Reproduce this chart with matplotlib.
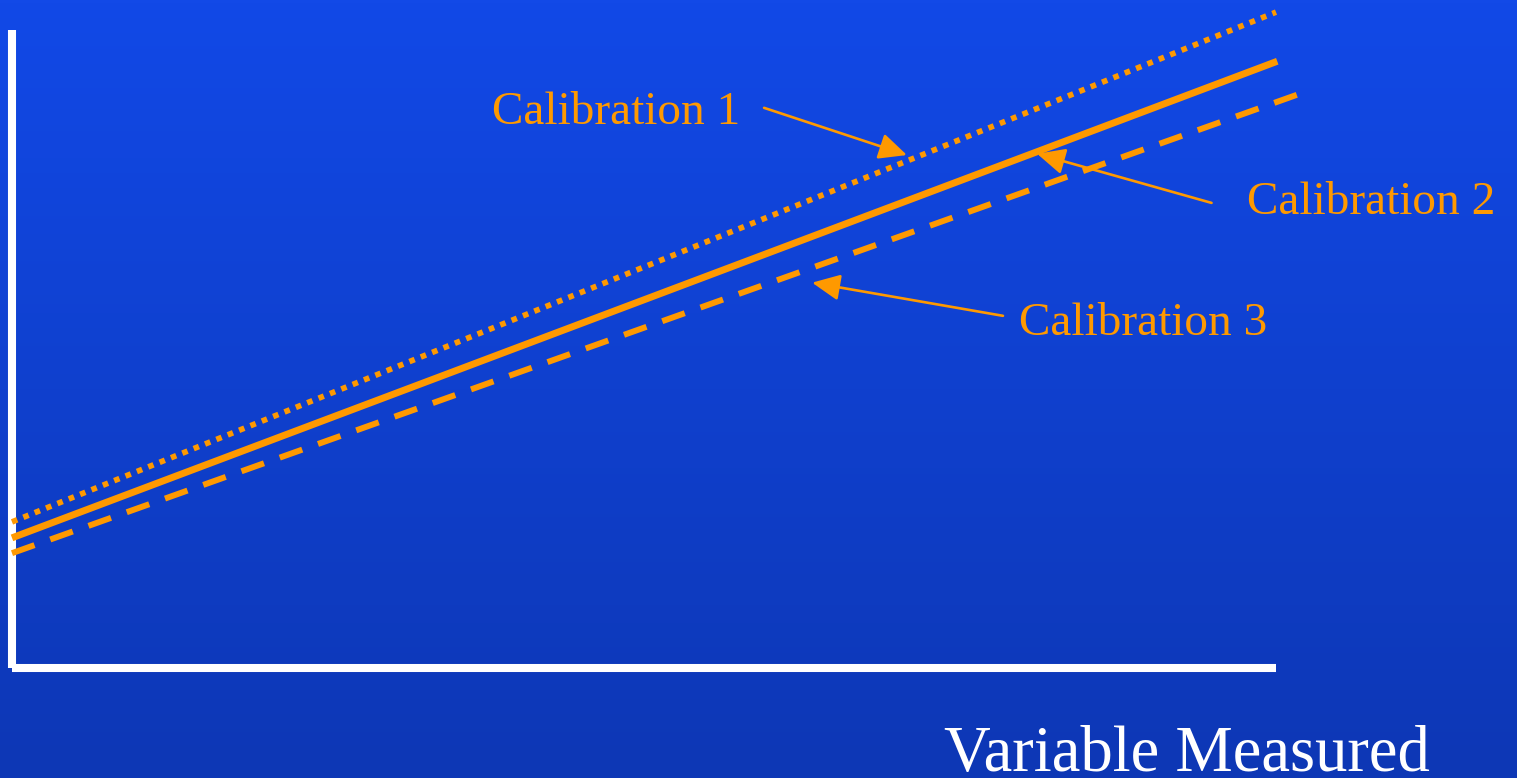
import numpy as np
import matplotlib
matplotlib.use("Agg")
import matplotlib.pyplot as plt

# three calibration lines: end points in axis units (0-100 on both axes)
cal1_x = [0, 100]
cal1_y = [22.9, 102.8]
cal2_x = [0, 100.1]
cal2_y = [20.4, 95.1]
cal3_x = [0, 102.3]
cal3_y = [18.0, 90.3]

labels = ["Calibration 1", "Calibration 2", "Calibration 3"]
# arrow tip on each line and arrow tail next to each label
arrow_tip = [(70.8, 80.4), (81.1, 80.6), (63.3, 60.4)]
arrow_tail = [(59.5, 87.8), (94.9, 72.9), (78.4, 55.2)]
label_pos = [(57.6, 85.3), (97.7, 71.2), (79.7, 52.2)]
label_ha = ["right", "left", "left"]

xlabel = "Variable Measured"

orange = "#FF9900"
W, H = 1517, 778

fig = plt.figure(figsize=(W / 100, H / 100), dpi=100)

# blue vertical gradient behind everything
bg = fig.add_axes([0, 0, 1, 1], zorder=0)
top = np.array([0x12, 0x49, 0xE7]) / 255
bot = np.array([0x0D, 0x37, 0xB5]) / 255
t = np.linspace(0, 1, 256)[:, None]
grad = top * (1 - t) + bot * t
bg.imshow(grad[:, None, :], aspect="auto", extent=[0, 1, 0, 1])
bg.axis("off")

ax = fig.add_axes([12 / W, (H - 668) / H, 1264 / W, 638 / H], zorder=1)
ax.set_xlim(0, 100)
ax.set_ylim(0, 100)
ax.axis("off")
ax.patch.set_alpha(0)

# axes drawn as thick white strokes
ax.plot([0, 0], [0, 100], color="white", lw=5.8, solid_capstyle="butt", clip_on=False)
ax.plot([0, 100], [0, 0], color="white", lw=5.8, solid_capstyle="butt", clip_on=False)

ax.plot(cal1_x, cal1_y, color=orange, lw=4.1, linestyle=(0, (1.0, 1.15)),
        dash_capstyle="butt", clip_on=False)
ax.plot(cal2_x, cal2_y, color=orange, lw=5.0, solid_capstyle="butt", clip_on=False)
ax.plot(cal3_x, cal3_y, color=orange, lw=4.3, linestyle=(0, (4.0, 2.8)),
        dash_capstyle="butt", clip_on=False)

for lab, tip, tail, pos, ha in zip(labels, arrow_tip, arrow_tail, label_pos, label_ha):
    ax.annotate("", xy=tip, xytext=tail, annotation_clip=False,
                arrowprops=dict(arrowstyle="-|>,head_length=0.85,head_width=0.4",
                                mutation_scale=20, color=orange, lw=1.9,
                                shrinkA=0, shrinkB=0))
    ax.text(pos[0], pos[1], lab, color=orange, fontsize=34, ha=ha, va="baseline",
            family="Liberation Serif", clip_on=False)

ax.text(73.7, -16.1, xlabel, color="white", fontsize=46.5, ha="left", va="baseline",
        family="Liberation Serif", clip_on=False)

fig.savefig("out.png", dpi=100)
